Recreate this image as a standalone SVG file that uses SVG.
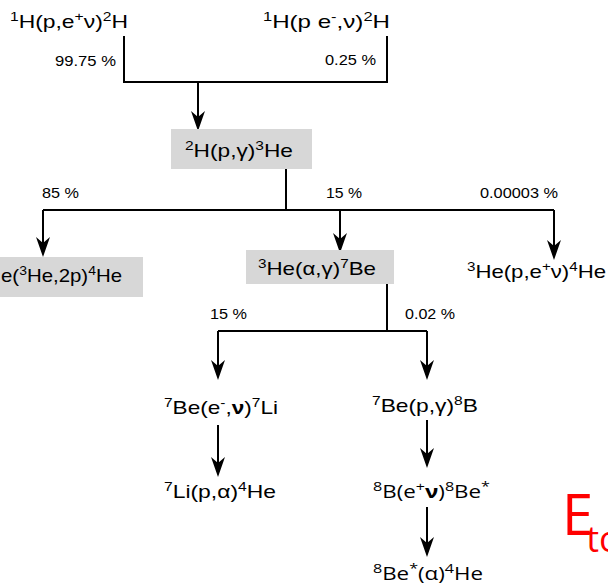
<svg xmlns="http://www.w3.org/2000/svg" width="608" height="585" viewBox="0 0 608 585">
<style>
.lbl{font-family:"Liberation Sans",Arial,sans-serif;font-size:19px;fill:#000}
.lbl2{font-family:"Open Sans","Noto Sans",sans-serif;font-size:18px;fill:#000}
.pct{font-family:"Liberation Sans",Arial,sans-serif;font-size:14.5px;fill:#000}
.sup{font-size:13px}
.box{fill:#d7d7d7}
.conn{fill:none;stroke:#000;stroke-width:2}
.arr{fill:none;stroke:#000;stroke-width:2;marker-end:url(#ah)}
</style>
<defs>
<marker id="ah" markerUnits="userSpaceOnUse" viewBox="-20 -7 20 14" refX="-3" refY="0" markerWidth="20" markerHeight="14" orient="auto">
<path d="M0,0 L-20,-7 L-14,0 L-20,7 Z" fill="#000"/>
</marker>
</defs>
<rect width="608" height="585" fill="#fff"/>

<g id="connectors">
<path class="conn" d="M124,36 V82 H387 V36"/>
<path class="arr" d="M198,82 V128"/>
<path class="conn" d="M286,169 V210"/>
<path class="conn" d="M43,210 H554"/>
<path class="arr" d="M43,210 V254"/>
<path class="arr" d="M340,210 V250"/>
<path class="arr" d="M554,210 V257"/>
<path class="conn" d="M387,284 V331"/>
<path class="conn" d="M218,331 H427"/>
<path class="arr" d="M218,331 V377"/>
<path class="arr" d="M427,331 V377"/>
<path class="arr" d="M218,425 V474"/>
<path class="arr" d="M427,420 V465"/>
<path class="arr" d="M427,507 V554"/>
</g>

<g id="labels">
<text class="pct" x="55" y="66" textLength="61" lengthAdjust="spacingAndGlyphs">99.75 %</text>
<text class="pct" x="325" y="65" textLength="51" lengthAdjust="spacingAndGlyphs">0.25 %</text>
<text class="pct" x="42" y="198" textLength="37" lengthAdjust="spacingAndGlyphs">85 %</text>
<text class="pct" x="326" y="198" textLength="36" lengthAdjust="spacingAndGlyphs">15 %</text>
<text class="pct" x="480" y="198" textLength="78" lengthAdjust="spacingAndGlyphs">0.00003 %</text>
<text class="pct" x="210" y="319" textLength="37" lengthAdjust="spacingAndGlyphs">15 %</text>
<text class="pct" x="405" y="319" textLength="50" lengthAdjust="spacingAndGlyphs">0.02 %</text>
</g>

<g id="n-pp1">
<text class="lbl" x="10" y="28" textLength="118" lengthAdjust="spacingAndGlyphs"><tspan class="sup" dy="-7">1</tspan><tspan dy="7">H(p,e</tspan><tspan class="sup" dy="-7">+</tspan><tspan dy="7">ν)</tspan><tspan class="sup" dy="-7">2</tspan><tspan dy="7">H</tspan></text>
</g>
<g id="n-pep">
<text class="lbl" x="263" y="28" textLength="127" lengthAdjust="spacingAndGlyphs"><tspan class="sup" dy="-7">1</tspan><tspan dy="7">H(p e</tspan><tspan class="sup" dy="-7">-</tspan><tspan dy="7">,ν)</tspan><tspan class="sup" dy="-7">2</tspan><tspan dy="7">H</tspan></text>
</g>
<g id="n-dpg">
<rect class="box" x="171" y="129" width="141" height="40"/>
<text class="lbl" x="185" y="157" textLength="108" lengthAdjust="spacingAndGlyphs"><tspan class="sup" dy="-7">2</tspan><tspan dy="7">H(p,γ)</tspan><tspan class="sup" dy="-7">3</tspan><tspan dy="7">He</tspan></text>
</g>
<g id="n-he3he3">
<rect class="box" x="0" y="257" width="143" height="40"/>
<text class="lbl" x="1" y="282" textLength="121" lengthAdjust="spacingAndGlyphs">e(<tspan class="sup" dy="-7">3</tspan><tspan dy="7">He,2p)</tspan><tspan class="sup" dy="-7">4</tspan><tspan dy="7">He</tspan></text>
</g>
<g id="n-he3alpha">
<rect class="box" x="246" y="250" width="148" height="34"/>
<text class="lbl" x="258" y="275" textLength="118" lengthAdjust="spacingAndGlyphs"><tspan class="sup" dy="-7">3</tspan><tspan dy="7">He(α,γ)</tspan><tspan class="sup" dy="-7">7</tspan><tspan dy="7">Be</tspan></text>
</g>
<g id="n-hep">
<text class="lbl" x="467" y="278" textLength="139" lengthAdjust="spacingAndGlyphs"><tspan class="sup" dy="-7">3</tspan><tspan dy="7">He(p,e</tspan><tspan class="sup" dy="-7">+</tspan><tspan dy="7">ν)</tspan><tspan class="sup" dy="-7">4</tspan><tspan dy="7">He</tspan></text>
</g>
<g id="n-be7e">
<text class="lbl" x="164" y="414" textLength="114" lengthAdjust="spacingAndGlyphs"><tspan class="sup" dy="-7">7</tspan><tspan dy="7">Be(e</tspan><tspan class="sup" dy="-7">-</tspan><tspan dy="7">,</tspan><tspan font-weight="bold">ν</tspan><tspan>)</tspan><tspan class="sup" dy="-7">7</tspan><tspan dy="7">Li</tspan></text>
</g>
<g id="n-be7p">
<text class="lbl" x="372" y="412" textLength="106" lengthAdjust="spacingAndGlyphs"><tspan class="sup" dy="-7">7</tspan><tspan dy="7">Be(p,γ)</tspan><tspan class="sup" dy="-7">8</tspan><tspan dy="7">B</tspan></text>
</g>
<g id="n-li7">
<text class="lbl" x="164" y="498" textLength="112" lengthAdjust="spacingAndGlyphs"><tspan class="sup" dy="-7">7</tspan><tspan dy="7">Li(p,α)</tspan><tspan class="sup" dy="-7">4</tspan><tspan dy="7">He</tspan></text>
</g>
<g id="n-b8">
<text class="lbl2" x="373" y="498" textLength="117" lengthAdjust="spacingAndGlyphs"><tspan class="sup" dy="-7">8</tspan><tspan dy="7">B(e</tspan><tspan class="sup" dy="-7">+</tspan><tspan dy="7" font-weight="bold">ν</tspan><tspan>)</tspan><tspan class="sup" dy="-7">8</tspan><tspan dy="7">Be</tspan><tspan class="sup" dy="-7">*</tspan></text>
</g>
<g id="n-be8">
<text class="lbl2" x="373" y="580" textLength="110" lengthAdjust="spacingAndGlyphs"><tspan class="sup" dy="-7">8</tspan><tspan dy="7">Be</tspan><tspan class="sup" dy="-7">*</tspan><tspan dy="7">(α)</tspan><tspan class="sup" dy="-7">4</tspan><tspan dy="7">He</tspan></text>
</g>
<g id="etot">
<text x="562" y="535" font-family="'Open Sans','Noto Sans',sans-serif" font-size="56" fill="#ff0000">E<tspan dx="-7" dy="17" font-size="36">to</tspan></text>
</g>
</svg>
